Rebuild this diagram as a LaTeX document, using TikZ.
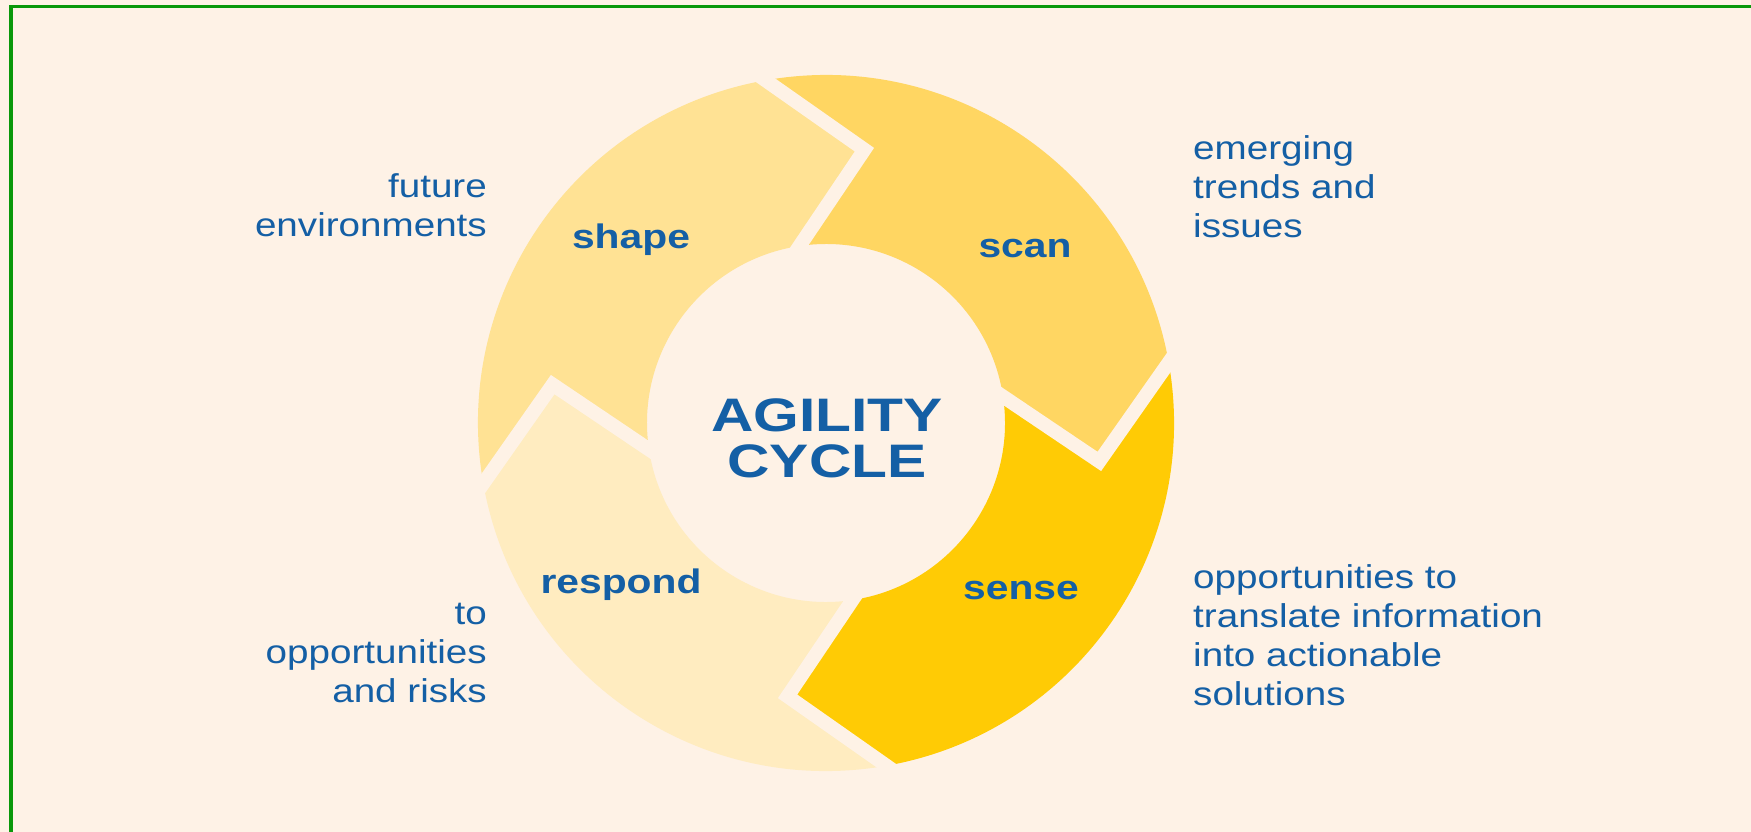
\documentclass[tikz,border=0pt]{standalone}
\usepackage{fontspec}
\setmainfont{Liberation Sans}
\newfontfamily\txtfont{Liberation Sans}[FakeStretch=1.17]
\newfontfamily\labfont{Liberation Sans}[FakeStretch=1.2]
\newfontfamily\ttlfont{Liberation Sans}[FakeStretch=1.25]
\usetikzlibrary{calc}
\definecolor{bgcol}{RGB}{254,242,230}
\definecolor{framecol}{RGB}{10,152,10}
\definecolor{txtblue}{RGB}{20,95,165}
\definecolor{shapecol}{RGB}{255,226,148}
\definecolor{scancol}{RGB}{255,214,98}
\definecolor{sensecol}{RGB}{255,203,5}
\definecolor{respcol}{RGB}{255,236,192}
\begin{document}
\begin{tikzpicture}[x=1pt,y=-1pt,
  side/.style={text=txtblue, font=\txtfont\fontsize{33}{39}\selectfont, inner sep=0pt},
  lab/.style={text=txtblue, font=\labfont\bfseries\fontsize{34}{40}\selectfont, inner sep=0pt, anchor=base},
  ttl/.style={text=txtblue, font=\ttlfont\bfseries\fontsize{47}{46}\selectfont, inner sep=0pt, anchor=base},
  gapline/.style={draw=bgcol, line width=14pt, line join=miter, miter limit=20},
  frameline/.style={draw=framecol, line width=3.8pt}]
\useasboundingbox (0,0) rectangle (1751,832);
\fill[bgcol] (0,0) rectangle (1751,832);
\draw[frameline] (10.8,850) -- (10.8,6.5) -- (1770,6.5);
\begin{scope}[shift={(826,423)}]
  \foreach \a/\c in {170/shapecol, 260/scancol, -10/sensecol, 80/respcol}{
    \fill[\c] ({\a}:348) arc[start angle={\a}, end angle={\a+90}, radius=348]
      -- ({\a+108}:276) -- ({\a+91.5}:179)
      arc[start angle={\a+91.5}, end angle={\a+1.5}, radius=179]
      -- ({\a+18}:276) -- cycle;
  }
  \foreach \a in {-100,-10,80,170}{
    \draw[gapline] ($({\a+18}:276)!1.3!({\a}:348)$) -- ({\a+18}:276)
      -- ($({\a+18}:276)!1.4!({\a+1.5}:179)$);
  }
\end{scope}
\node[lab] (shape) at (631,248) {shape};
\node[lab] (scan) at (1025,257) {scan};
\node[lab] (sense) at (1021,599) {sense};
\node[lab] (respond) at (621,593) {respond};
\node[ttl] (title) at (827,431) {\begin{tabular}[t]{@{}c@{}}AGILITY\\CYCLE\end{tabular}};
\node[side, anchor=base west] (scantxt) at (1193,160) {\begin{tabular}[t]{@{}l@{}}emerging\\trends and\\issues\end{tabular}};
\node[side, anchor=base west] (sensetxt) at (1193,588) {\begin{tabular}[t]{@{}l@{}}opportunities to\\translate information\\into actionable\\solutions\end{tabular}};
\node[side, anchor=base east] (shapetxt) at (487,197) {\begin{tabular}[t]{@{}r@{}}future\\environments\end{tabular}};
\node[side, anchor=base east] (resptxt) at (487,624) {\begin{tabular}[t]{@{}r@{}}to\\opportunities\\and risks\end{tabular}};
\end{tikzpicture}
\end{document}
